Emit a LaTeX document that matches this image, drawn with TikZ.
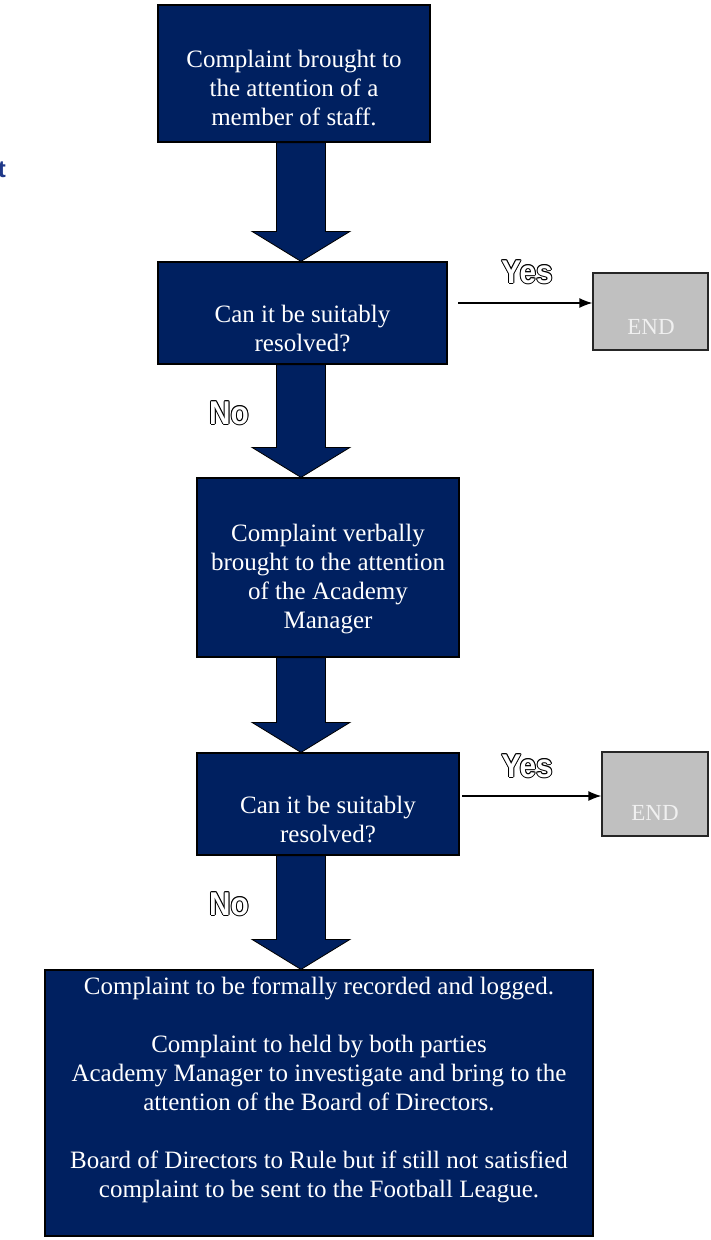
\documentclass[tikz,border=0pt]{standalone}
\usepackage{fontspec}
\setmainfont{Liberation Serif}
\newfontfamily\lblfont[FakeStretch=0.9]{Liberation Sans}
\newfontfamily\headfont{Liberation Sans}
\usetikzlibrary{calc, positioning, arrows.meta}

\definecolor{navy}{RGB}{0,32,96}
\definecolor{endgrey}{RGB}{192,192,192}
\definecolor{titleblue}{RGB}{31,56,136}

% white letters with a thin black rim
\newcommand{\hollow}[1]{%
  \makebox[0pt][l]{\kern1pt\color{black}#1}%
  \makebox[0pt][l]{\kern-1pt\color{black}#1}%
  \makebox[0pt][l]{\raisebox{1pt}{\color{black}#1}}%
  \makebox[0pt][l]{\raisebox{-1pt}{\color{black}#1}}%
  \makebox[0pt][l]{\kern.7pt\raisebox{.7pt}{\color{black}#1}}%
  \makebox[0pt][l]{\kern-.7pt\raisebox{.7pt}{\color{black}#1}}%
  \makebox[0pt][l]{\kern.7pt\raisebox{-.7pt}{\color{black}#1}}%
  \makebox[0pt][l]{\kern-.7pt\raisebox{-.7pt}{\color{black}#1}}%
  {\color{white}#1}}

% fat arrow from the bottom of #1 down to the top of #2
\newcommand{\blockarrow}[2]{%
  \draw[blockarr] let \p1 = (#1.south), \p2 = (#2.north) in
    (276.5,\y1) -- (276.5,\y2+30pt) -- (252,\y2+30pt) -- (301,\y2)
    -- (350,\y2+30pt) -- (325.5,\y2+30pt) -- (325.5,\y1) -- cycle;}

\begin{document}
\begin{tikzpicture}[>={Latex[length=13pt,width=10pt]}, x=1pt, y=-1pt,
  navybox/.style={draw=black, line width=1.2pt, fill=navy, inner sep=0pt},
  boxtext/.style={text=white, align=center, font=\fontsize{25}{29}\selectfont},
  endbox/.style={draw=black!85, line width=1.2pt, fill=endgrey, inner sep=0pt},
  endtext/.style={text=white!94!black, font=\fontsize{23}{26}\selectfont},
  yesno/.style={font=\lblfont\bfseries\fontsize{33}{33}\selectfont},
  blockarr/.style={draw=black, line width=0.8pt, fill=navy}]
  \useasboundingbox (0,0) rectangle (710,1240);

  \node[anchor=east, inner sep=0pt, text=titleblue, font=\headfont\bfseries\fontsize{24}{24}\selectfont] (tt) at (6,170) {t};

  % boxes
  \node[navybox, minimum width=272pt, minimum height=137pt] (b1) at (294,73.5) {};
  \node[navybox, minimum width=289pt, minimum height=102pt] (b2) at (302.5,313) {};
  \node[navybox, minimum width=262pt, minimum height=179pt] (b3) at (328,567.5) {};
  \node[navybox, minimum width=262pt, minimum height=102pt] (b4) at (328,804) {};
  \node[navybox, minimum width=548pt, minimum height=266pt] (b5) at (319,1103) {};
  \node[endbox, minimum width=115pt, minimum height=77pt] (e1) at (650.5,311.5) {};
  \node[endbox, minimum width=106pt, minimum height=84pt] (e2) at (655,794) {};

  % texts
  \node[boxtext] (t1) at (294,88) {Complaint brought to\\the attention of a\\member of staff.};
  \node[boxtext] (t2) at (302.5,328) {Can it be suitably\\resolved?};
  \node[boxtext] (t3) at (328,579) {Complaint verbally\\brought to the attention\\of the Academy\\Manager};
  \node[boxtext] (t4) at (328,819) {Can it be suitably\\resolved?};
  \node[boxtext] (t5) at (319,1090) {Complaint to be formally recorded and logged.\\[29pt]
    Complaint to held by both parties\\Academy Manager to investigate and bring to the\\
    attention of the Board of Directors.\\[29pt]
    Board of Directors to Rule but if still not satisfied\\complaint to be sent to the Football League.};
  \node[endtext] (et1) at (651,327) {END};
  \node[endtext] (et2) at (655,813) {END};

  % yes / no
  \node[yesno] (yes1) at (527,272) {\hollow{Yes}};
  \node[yesno] (yes2) at (527,766) {\hollow{Yes}};
  \node[yesno] (no1) at (229,413) {\hollow{No}};
  \node[yesno] (no2) at (229,904) {\hollow{No}};

  % arrows
  \blockarrow{b1}{b2}
  \blockarrow{b2}{b3}
  \blockarrow{b3}{b4}
  \blockarrow{b4}{b5}
  \coordinate (y1) at (458,303);
  \coordinate (y2) at (462,796);
  \draw[line width=1.4pt, ->] (y1) -- (y1 -| e1.west);
  \draw[line width=1.4pt, ->] (y2) -- (y2 -| e2.west);
\end{tikzpicture}
\end{document}
